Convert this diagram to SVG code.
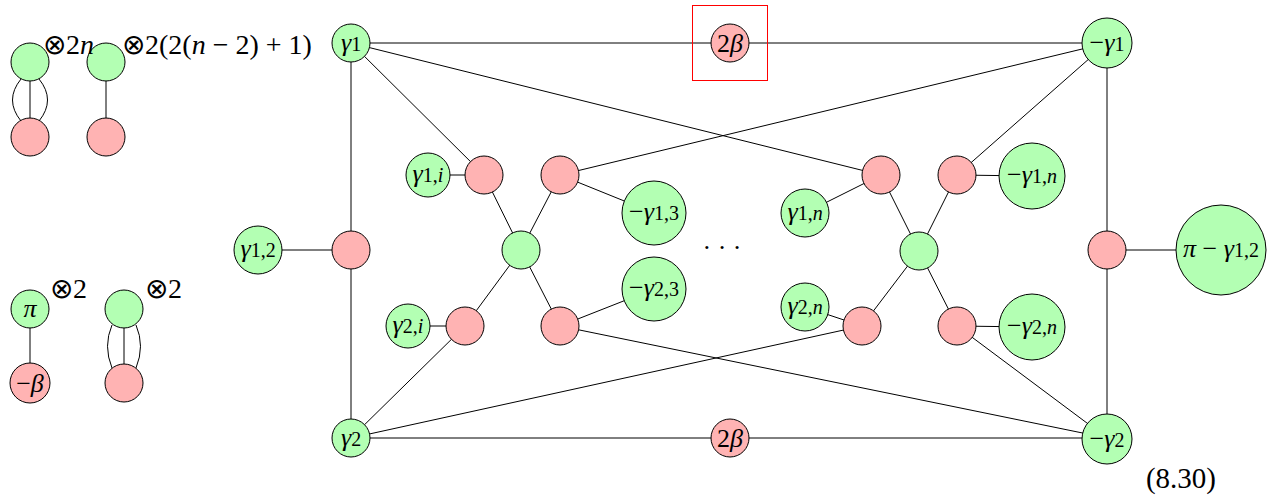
<svg xmlns="http://www.w3.org/2000/svg" width="1279" height="502" viewBox="0 0 1279 502">
<style>
.g{fill:#b3ffb3;stroke:#000;stroke-width:1}
.r{fill:#ffb3b3;stroke:#000;stroke-width:1}
.e{stroke:#000;stroke-width:1;fill:none}
text{font-size:26px;fill:#000}
.c{text-anchor:middle}
.i{font-style:italic}
.s{font-size:20px}
.L{font-size:28px}
</style>
<rect width="1279" height="502" fill="#fff"/>
<g id="connectors">
<line class="e" x1="30" y1="62" x2="30" y2="137"/>
<path class="e" d="M21,79 Q4,100 21,121"/>
<path class="e" d="M39,79 Q56,100 39,121"/>
<line class="e" x1="106" y1="62" x2="106" y2="137"/>
<line class="e" x1="30" y1="309" x2="30" y2="383"/>
<line class="e" x1="124" y1="309" x2="124" y2="383"/>
<path class="e" d="M112,325 Q103,346 112,368"/>
<path class="e" d="M136,325 Q145,346 136,368"/>
<line class="e" x1="351" y1="43" x2="1107" y2="43"/>
<line class="e" x1="351" y1="438" x2="1107" y2="438"/>
<line class="e" x1="351" y1="43" x2="351" y2="438"/>
<line class="e" x1="1107" y1="43" x2="1107" y2="438"/>
<line class="e" x1="258" y1="250" x2="351" y2="250"/>
<line class="e" x1="1107" y1="250" x2="1221" y2="250"/>
<line class="e" x1="351" y1="43" x2="484" y2="175"/>
<line class="e" x1="351" y1="43" x2="881" y2="175"/>
<line class="e" x1="428" y1="175" x2="484" y2="175"/>
<line class="e" x1="484" y1="175" x2="521" y2="250"/>
<line class="e" x1="560" y1="175" x2="521" y2="250"/>
<line class="e" x1="560" y1="175" x2="654" y2="213"/>
<line class="e" x1="560" y1="175" x2="1107" y2="43"/>
<line class="e" x1="521" y1="250" x2="465" y2="326"/>
<line class="e" x1="521" y1="250" x2="560" y2="326"/>
<line class="e" x1="465" y1="326" x2="408" y2="326"/>
<line class="e" x1="465" y1="326" x2="351" y2="438"/>
<line class="e" x1="560" y1="326" x2="654" y2="289"/>
<line class="e" x1="560" y1="326" x2="1107" y2="438"/>
<line class="e" x1="351" y1="438" x2="862" y2="326"/>
<line class="e" x1="881" y1="175" x2="805" y2="213"/>
<line class="e" x1="881" y1="175" x2="919" y2="251"/>
<line class="e" x1="957" y1="175" x2="919" y2="251"/>
<line class="e" x1="957" y1="175" x2="1032" y2="176"/>
<line class="e" x1="957" y1="175" x2="1107" y2="43"/>
<line class="e" x1="919" y1="251" x2="862" y2="326"/>
<line class="e" x1="919" y1="251" x2="957" y2="326"/>
<line class="e" x1="862" y1="326" x2="805" y2="307"/>
<line class="e" x1="957" y1="326" x2="1032" y2="327"/>
<line class="e" x1="957" y1="326" x2="1107" y2="438"/>
</g>
<g font-family="'Liberation Serif', 'Times New Roman', serif">
<g id="legend">
<circle class="g" cx="30" cy="62" r="19"/>
<circle class="r" cx="30" cy="137" r="19"/>
<circle class="g" cx="106" cy="62" r="19"/>
<circle class="r" cx="106" cy="137" r="19"/>
<text class="L" x="43" y="54">⊗2<tspan class="i">n</tspan></text>
<text class="L" x="122" y="54">⊗2(2(<tspan class="i">n</tspan> − 2) + 1)</text>
<circle class="g" cx="30" cy="309" r="19"/>
<text class="c i" x="30" y="317">π</text>
<circle class="r" cx="30" cy="383" r="20"/>
<text class="c" x="30" y="392">−<tspan class="i">β</tspan></text>
<circle class="g" cx="124" cy="309" r="19"/>
<circle class="r" cx="124" cy="383" r="19"/>
<text class="L" x="50" y="298">⊗2</text>
<text class="L" x="145" y="298">⊗2</text>
</g>
<g id="n-g1"><circle class="g" cx="351" cy="43" r="19"/><text class="c" x="351" y="51"><tspan class="i">γ</tspan><tspan class="s">1</tspan></text></g>
<g id="n-top2b"><rect x="692.5" y="5.5" width="75" height="75" fill="none" stroke="#f00" stroke-width="1"/><circle class="r" cx="730" cy="43" r="19"/><text class="c" x="730" y="52">2<tspan class="i">β</tspan></text></g>
<g id="n-mg1"><circle class="g" cx="1107" cy="43" r="25"/><text class="c" x="1107" y="51">−<tspan class="i">γ</tspan><tspan class="s">1</tspan></text></g>
<g id="n-g12"><circle class="g" cx="258" cy="250" r="24"/><text class="c" x="258" y="257"><tspan class="i">γ</tspan><tspan class="s">1,2</tspan></text></g>
<g id="n-rl"><circle class="r" cx="351" cy="250" r="19"/></g>
<g id="n-g2"><circle class="g" cx="351" cy="438" r="19"/><text class="c" x="351" y="446"><tspan class="i">γ</tspan><tspan class="s">2</tspan></text></g>
<g id="n-bot2b"><circle class="r" cx="730" cy="438" r="19"/><text class="c" x="730" y="447">2<tspan class="i">β</tspan></text></g>
<g id="n-mg2"><circle class="g" cx="1107" cy="439" r="25"/><text class="c" x="1107" y="447">−<tspan class="i">γ</tspan><tspan class="s">2</tspan></text></g>
<g id="n-rr"><circle class="r" cx="1107" cy="250" r="19"/></g>
<g id="n-pig12"><circle class="g" cx="1221" cy="250" r="45"/><text class="c" x="1221" y="257"><tspan class="i">π</tspan> − <tspan class="i">γ</tspan><tspan class="s">1,2</tspan></text></g>
<g id="n-g1i"><circle class="g" cx="428" cy="175" r="22"/><text class="c" x="428" y="182"><tspan class="i">γ</tspan><tspan class="s">1,<tspan class="i">i</tspan></tspan></text></g>
<g id="n-r1"><circle class="r" cx="484" cy="175" r="19"/></g>
<g id="n-r2"><circle class="r" cx="560" cy="175" r="19"/></g>
<g id="n-mg13"><circle class="g" cx="654" cy="213" r="32"/><text class="c" x="654" y="220">−<tspan class="i">γ</tspan><tspan class="s">1,3</tspan></text></g>
<g id="n-cl"><circle class="g" cx="521" cy="250" r="19"/></g>
<g id="n-mg23"><circle class="g" cx="654" cy="289" r="32"/><text class="c" x="654" y="296">−<tspan class="i">γ</tspan><tspan class="s">2,3</tspan></text></g>
<g id="n-g2i"><circle class="g" cx="408" cy="326" r="22"/><text class="c" x="408" y="333"><tspan class="i">γ</tspan><tspan class="s">2,<tspan class="i">i</tspan></tspan></text></g>
<g id="n-r3"><circle class="r" cx="465" cy="326" r="19"/></g>
<g id="n-r4"><circle class="r" cx="560" cy="326" r="19"/></g>
<g id="n-r5"><circle class="r" cx="881" cy="175" r="19"/></g>
<g id="n-r6"><circle class="r" cx="957" cy="175" r="19"/></g>
<g id="n-mg1n"><circle class="g" cx="1032" cy="176" r="33"/><text class="c" x="1032" y="183">−<tspan class="i">γ</tspan><tspan class="s">1,<tspan class="i">n</tspan></tspan></text></g>
<g id="n-g1n"><circle class="g" cx="805" cy="213" r="24"/><text class="c" x="805" y="220"><tspan class="i">γ</tspan><tspan class="s">1,<tspan class="i">n</tspan></tspan></text></g>
<g id="n-cr"><circle class="g" cx="919" cy="251" r="19"/></g>
<g id="n-g2n"><circle class="g" cx="805" cy="307" r="24"/><text class="c" x="805" y="314"><tspan class="i">γ</tspan><tspan class="s">2,<tspan class="i">n</tspan></tspan></text></g>
<g id="n-r7"><circle class="r" cx="862" cy="326" r="19"/></g>
<g id="n-r8"><circle class="r" cx="957" cy="326" r="19"/></g>
<g id="n-mg2n"><circle class="g" cx="1032" cy="327" r="33"/><text class="c" x="1032" y="334">−<tspan class="i">γ</tspan><tspan class="s">2,<tspan class="i">n</tspan></tspan></text></g>
<text class="c" x="722" y="256">· · ·</text>
<text x="1216" y="488" style="text-anchor:end;font-size:29px">(8.30)</text>
</g>
</svg>
